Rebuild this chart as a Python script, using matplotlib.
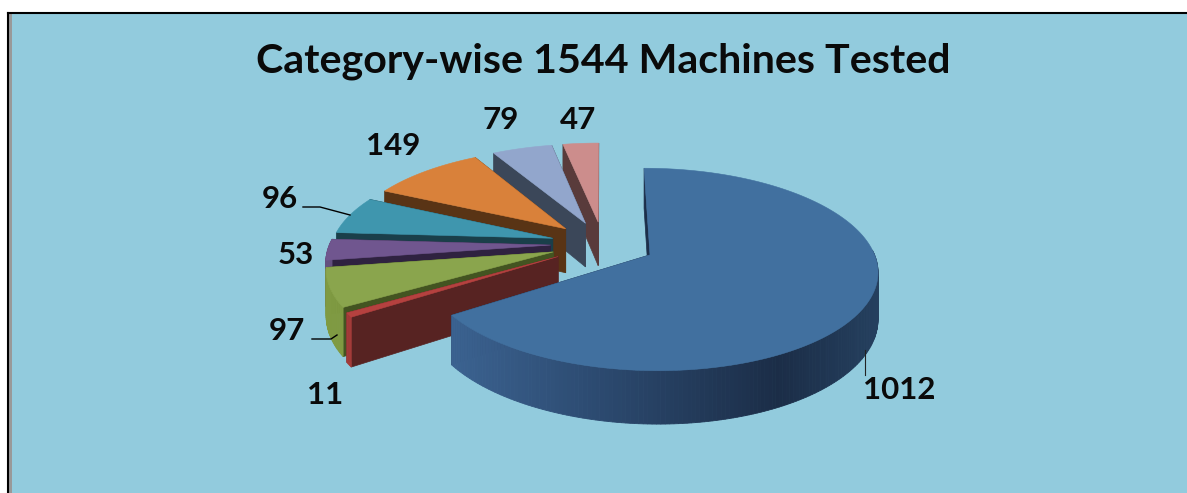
import matplotlib
matplotlib.use("Agg")
import matplotlib.pyplot as plt
from matplotlib.patches import Polygon, Rectangle
import numpy as np

# ---- data, clockwise from 12 o'clock
title = "Category-wise 1544 Machines Tested"
values = [1012, 11, 97, 53, 96, 149, 79, 47]
top_colors = ["#41709f", "#b5413f", "#8aa54d", "#70568f", "#3f96ae", "#d9813a", "#92a6cc", "#cc8d8c"]
side_colors = ["#1c2f4a", "#572322", "#435421", "#2f2240", "#1a3f4a", "#593415", "#3b4759", "#593b3b"]
wall_colors = ["#3b6290", "#a33b39", "#7f9a42", "#64507f", "#35808f", "#a86a30", "#7f90b0", "#b07a79"]
label_pos = [(899, 390), (325, 395), (287, 331), (296, 255), (280, 199), (393, 146), (501, 120), (578, 120)]

# ---- projection of the tilted pie onto pixels
cx, cy = 603, 244
rx, ry = 221, 96
persp = 0.142
explode = 0.237
height = 45

# ---- wall gradient of the big slice, by pixel column
grad_x = [455, 600, 780, 880]
grad_c = np.array([matplotlib.colors.to_rgb(s) for s in ["#3b6290", "#2c4a70", "#1b2d47", "#25405f"]])

def project(X, Y, drop=0.0):
    w = 1 / (1 - persp * Y)
    return cx + rx * X * w, cy + ry * Y * w + drop * w

fig = plt.figure(figsize=(11.87, 4.93), dpi=100, facecolor="white")
ax = fig.add_axes([0, 0, 1, 1])
ax.set_xlim(0, 1187)
ax.set_ylim(493, 0)
ax.axis("off")

# ---- background panel with its frame
ax.add_patch(Rectangle((9, 13), 1178, 480, color="#92cbdd", lw=0, zorder=0))
ax.add_patch(Rectangle((9, 13), 3, 480, color="#999999", lw=0, zorder=0))
ax.plot([8, 8], [493, 13], color="black", lw=1.5, zorder=1)
ax.plot([8, 1187], [13, 13], color="black", lw=1.5, zorder=1)

edges = np.cumsum([0] + values) / sum(values) * 2 * np.pi

# ---- slices painted from the back to the front, big one last
for i in range(len(values) - 1, -1, -1):
    start, end = edges[i], edges[i + 1]
    mid = (start + end) / 2
    ox, oy = explode * np.sin(mid), -explode * np.cos(mid)
    t = np.linspace(start, end, max(int((end - start) * 60), 4))
    rimX = ox + np.sin(t)
    rimY = oy - np.cos(t)

    # cut faces
    for a in (start, end):
        rX, rY = ox + np.sin(a), oy - np.cos(a)
        p = [project(ox, oy), project(rX, rY), project(rX, rY, height), project(ox, oy, height)]
        ax.add_patch(Polygon(p, closed=True, fc=side_colors[i], ec=side_colors[i], lw=0.5, zorder=2))

    # outer wall, only the part looking at us
    for j in range(len(t) - 1):
        if -np.cos(t[j]) < -0.05:
            continue
        p = [project(rimX[j], rimY[j]), project(rimX[j + 1], rimY[j + 1]),
             project(rimX[j + 1], rimY[j + 1], height), project(rimX[j], rimY[j], height)]
        if i == 0:
            c = [np.interp(p[0][0], grad_x, grad_c[:, k]) for k in range(3)]
        else:
            c = wall_colors[i]
        ax.add_patch(Polygon(p, closed=True, fc=c, ec=c, lw=0.6, zorder=2))

    # top face
    top = [project(ox, oy)] + [project(x, y) for x, y in zip(rimX, rimY)]
    ax.add_patch(Polygon(top, closed=True, fc=top_colors[i], ec=top_colors[i], lw=0.4, zorder=2))

# ---- leader lines
ax.plot([303, 320, 350], [207, 207, 215], color="black", lw=1, zorder=3)
ax.plot([312, 331, 337], [339, 339, 335], color="black", lw=1, zorder=3)
ax.plot([865, 865], [350, 375], color="#222222", lw=0.8, zorder=3)

# ---- text
ax.text(603, 61, title, ha="center", va="center", fontsize=29.6, fontweight="bold",
        family="Lato", color="#0a0a0a", zorder=4)
for v, (x, y) in zip(values, label_pos):
    ax.text(x, y, str(v), ha="center", va="center", fontsize=22.5, fontweight="bold",
            family="Lato", color="#0a0a0a", zorder=4)

fig.savefig("out.png", dpi=100)
